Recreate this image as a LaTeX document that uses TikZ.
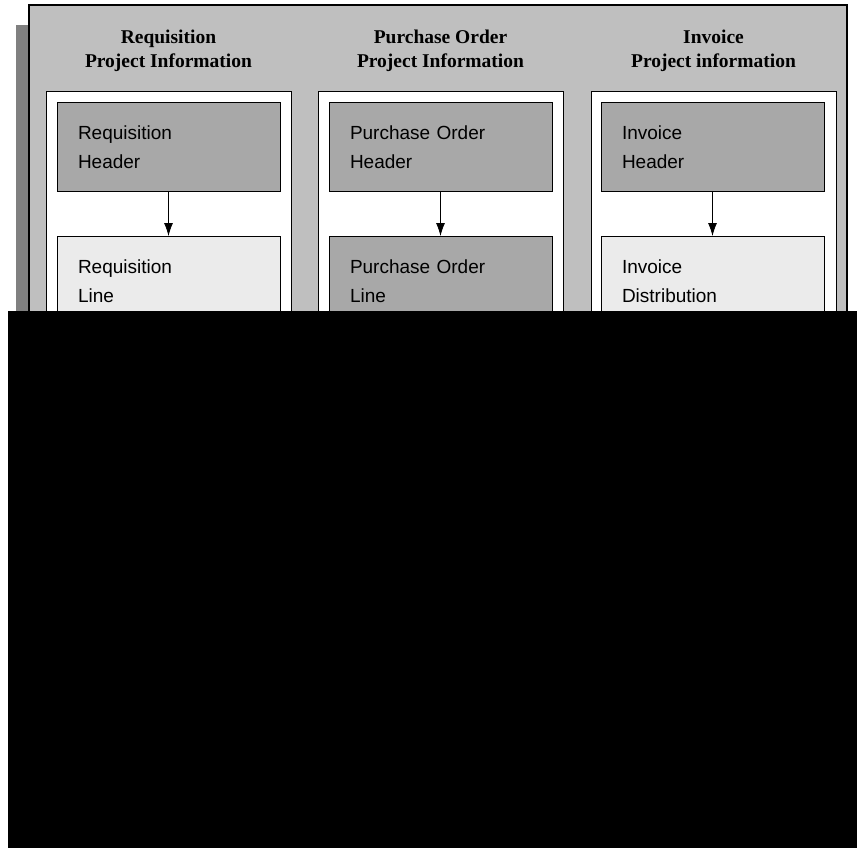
\documentclass[tikz,border=0pt]{standalone}
\usepackage{fontspec}
\setmainfont{Liberation Serif}
\setsansfont{Liberation Sans}
\usetikzlibrary{arrows.meta}

\definecolor{panelgray}{gray}{0.75}
\definecolor{shadowgray}{gray}{0.5}
\definecolor{hdrgray}{gray}{0.66}
\definecolor{linegray}{gray}{0.92}

\tikzset{
    coltitle/.style={align=center, font=\fontsize{19.5}{24}\selectfont\bfseries},
    recbox/.style={draw, line width=0.8pt, anchor=north, minimum width=223pt,
        minimum height=89pt, text width=181pt, align=left, inner xsep=21pt,
        font=\sffamily\fontsize{19}{29}\selectfont},
    hdrbox/.style={recbox, fill=hdrgray},
    linebox/.style={recbox, fill=linegray},
    flow/.style={line width=0.8pt, -{Latex[length=13pt,width=9pt]}}
}

\begin{document}
\begin{tikzpicture}[x=1pt, y=-1pt]
    \useasboundingbox (0,0) rectangle (857,848);

    % --- outer panel with its shadow ---
    \fill[shadowgray] (16,25) rectangle (834,420);
    \draw[fill=panelgray, line width=1.2pt] (29,5) rectangle (847,420);

    % --- white column frames ---
    \foreach \l/\r in {46/291, 318/563, 591/836} {
        \draw[fill=white, line width=0.8pt] (\l,91) rectangle (\r,420);
    }

    % --- column titles ---
    \node[coltitle] (reqT) at (168.5,51) {Requisition\\Project Information};
    \node[coltitle] (poT)  at (440.5,51) {Purchase Order\\Project Information};
    \node[coltitle] (invT) at (713.5,51) {Invoice\\Project information};

    % --- records ---
    \node[hdrbox]  (reqH) at (168.5,102) {Requisition\\Header};
    \node[linebox] (reqL) at (168.5,236) {Requisition\\Line};

    \node[hdrbox]  (poH) at (440.5,102) {Purchase Order\\Header};
    \node[hdrbox]  (poL) at (440.5,236) {Purchase Order\\Line};

    \node[hdrbox]  (invH) at (712.5,102) {Invoice\\Header};
    \node[linebox] (invL) at (712.5,236) {Invoice\\Distribution};

    % header -> line
    \draw[flow] (reqH) -- (reqL);
    \draw[flow] (poH) -- (poL);
    \draw[flow] (invH) -- (invL);

    % --- blacked out lower part ---
    \fill[black] (8,311) rectangle (857,848);
\end{tikzpicture}
\end{document}
